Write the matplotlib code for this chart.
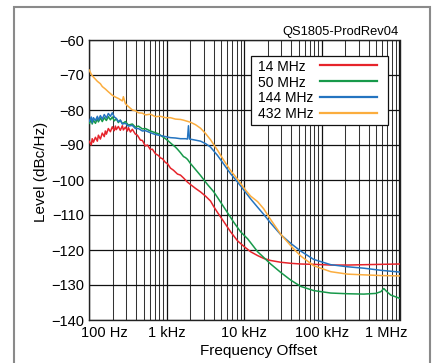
import matplotlib
matplotlib.use("Agg")
import matplotlib.pyplot as plt
from matplotlib.ticker import FixedLocator, LogLocator, NullFormatter
from matplotlib.patches import Rectangle
from matplotlib.lines import Line2D
import matplotlib.transforms as mtransforms

plt.rcParams['font.family'] = ['Liberation Sans', 'DejaVu Sans']

# ---------------- data ----------------
series_labels = ["14 MHz", "50 MHz", "144 MHz", "432 MHz"]
series_colors = ["#e6242b", "#17994a", "#2474c0", "#fbad3e"]

f_14 = [100, 106, 109, 113, 120, 127, 131, 139, 147, 156, 161, 166, 176, 187, 198,
        210, 217, 223, 237, 251, 267, 275, 292, 310, 319, 339, 359, 393, 417, 456,
        484, 529, 561, 614, 651, 712, 779, 827, 877, 959, 1018, 1113, 1216, 1371,
        1499, 1638, 1845, 2018, 2342, 2716, 3152, 3656, 4000, 4506, 5387, 6634,
        8171, 9771, 12030, 14820, 16190, 17700, 21800, 29390, 39540, 53200, 78400,
        130000, 215000, 347000, 575000, 1000000]
lvl_14 = [-89.0, -90.0, -88.2, -89.2, -87.8, -88.9, -87.2, -88.3, -86.6, -87.6, -86.0,
          -86.9, -85.3, -86.2, -84.8, -85.9, -84.6, -85.6, -84.7, -85.8, -84.5, -85.7,
          -84.9, -86.0, -85.0, -86.3, -85.5, -86.9, -87.2, -88.6, -88.7, -90.3, -90.0,
          -91.3, -91.2, -92.5, -93.0, -93.7, -93.9, -95.0, -95.3, -96.6, -97.2, -98.3,
          -98.6, -99.4, -100.6, -101.3, -102.4, -103.4, -104.6, -106.0, -107.5, -109.3,
          -111.8, -114.8, -117.4, -118.9, -120.5, -121.6, -122.0, -122.4, -123.0,
          -123.5, -123.8, -124.0, -124.1, -124.3, -124.3, -124.2, -124.1, -124.0]

f_50 = [100, 106, 109, 113, 120, 127, 131, 139, 147, 156, 166, 176, 187, 198, 210,
        223, 237, 251, 267, 292, 319, 359, 393, 430, 484, 529, 614, 712, 779, 877,
        959, 1049, 1181, 1291, 1371, 1499, 1638, 1738, 1845, 2018, 2342, 2716, 3346,
        4000, 4506, 5717, 7251, 8930, 11000, 14820, 17700, 21800, 29390, 39540,
        53200, 78400, 130000, 215000, 347000, 495000, 575000, 628000, 687000,
        774000, 898000, 1000000]
lvl_50 = [-83.8, -82.8, -84.0, -82.9, -83.8, -82.5, -83.4, -82.3, -83.3, -82.2, -83.0,
          -81.9, -82.8, -82.0, -83.1, -82.5, -83.6, -82.9, -83.9, -83.3, -84.3, -84.0,
          -84.9, -84.6, -85.4, -85.3, -86.0, -86.5, -86.8, -87.6, -88.2, -88.9, -89.9,
          -90.6, -91.2, -92.2, -93.3, -93.6, -94.1, -95.3, -97.0, -98.7, -101.3,
          -103.3, -105.0, -108.5, -112.0, -114.8, -116.8, -120.5, -122.1, -124.0,
          -126.4, -128.6, -130.4, -131.6, -132.3, -132.5, -132.6, -132.4, -131.9,
          -131.0, -131.9, -132.9, -133.4, -133.8]

f_144 = [100, 106, 109, 113, 120, 127, 131, 139, 147, 156, 166, 176, 187, 198, 210,
         223, 237, 251, 267, 292, 319, 359, 393, 430, 484, 529, 614, 712, 827, 959,
         1113, 1291, 1499, 1738, 1845, 1900, 1959, 2207, 2716, 3152, 3656, 4506,
         5387, 6634, 8171, 9771, 12030, 14820, 17700, 21800, 29390, 39540, 53200,
         78400, 130000, 215000, 347000, 575000, 1000000]
lvl_144 = [-83.2, -82.0, -83.6, -82.2, -83.0, -81.8, -82.9, -81.6, -82.6, -81.3, -82.3,
           -81.0, -81.8, -80.8, -82.0, -82.4, -83.3, -82.9, -84.0, -83.8, -84.6, -84.4,
           -85.3, -85.3, -86.0, -85.9, -86.5, -87.0, -87.3, -87.6, -87.9, -88.0, -88.2,
           -88.2, -88.3, -84.5, -88.3, -88.5, -88.9, -89.6, -90.6, -93.0, -95.4, -98.2,
           -100.6, -102.8, -105.4, -107.8, -109.8, -112.3, -115.6, -118.1, -120.3,
           -122.7, -124.2, -124.8, -125.2, -125.8, -126.3]

f_432 = [100, 106, 109, 113, 120, 127, 139, 147, 161, 176, 187, 198, 217, 237, 267,
         275, 292, 319, 359, 393, 430, 484, 529, 614, 712, 827, 959, 1113, 1291, 1499,
         1638, 2018, 2342, 2716, 3152, 3656, 4506, 5387, 6634, 8171, 10360, 12030,
         14820, 17700, 21800, 29390, 42000, 53200, 78400, 130000, 215000, 347000,
         575000, 1000000]
lvl_432 = [-68.6, -69.8, -70.2, -70.6, -71.2, -71.8, -72.5, -73.3, -74.0, -74.8, -75.3,
           -75.8, -76.3, -76.7, -77.4, -76.2, -78.2, -79.0, -80.0, -80.2, -80.8, -80.9,
           -81.4, -81.2, -81.9, -81.8, -82.2, -82.2, -82.6, -82.7, -82.9, -83.5, -84.2,
           -85.2, -86.7, -88.5, -91.5, -94.3, -97.3, -99.8, -102.9, -104.6, -106.2,
           -108.2, -111.3, -115.5, -119.4, -121.7, -124.5, -126.2, -126.9, -127.1,
           -127.3, -127.4]

x_ticks = [100, 1000, 10000, 100000, 1000000]
x_tick_labels = ["100 Hz", "1 kHz", "10 kHz", "100 kHz", "1 MHz"]
y_ticks = [-60, -70, -80, -90, -100, -110, -120, -130, -140]

# ---------------- figure ----------------
W, H = 433, 363
fig = plt.figure(figsize=(W / 100, H / 100), dpi=100)
ax = fig.add_axes([89.3 / W, (H - 320) / H, (399.5 - 89.3) / W, 280 / H])

freqs = [f_14, f_50, f_144, f_432]
levels = [lvl_14, lvl_50, lvl_144, lvl_432]
for fr, lv, lab, col in zip(freqs, levels, series_labels, series_colors):
    ax.plot(fr, lv, color=col, lw=1.1, label=lab, zorder=3)

ax.set_xscale('log')
ax.set_xlim(100, 1e6)
ax.set_ylim(-140, -60)
ax.xaxis.set_major_locator(FixedLocator(x_ticks))
ax.set_xticklabels(x_tick_labels)
ax.xaxis.set_minor_locator(LogLocator(base=10, subs=[2, 3, 4, 5, 6, 7, 8, 9]))
ax.xaxis.set_minor_formatter(NullFormatter())
ax.yaxis.set_major_locator(FixedLocator(y_ticks))

ax.grid(True, which='major', axis='both', color='#111111', lw=0.9, zorder=1)
ax.grid(True, which='minor', axis='x', color='#333333', lw=0.75, zorder=1)
ax.set_axisbelow(True)
ax.tick_params(which='both', length=0)
ax.tick_params(axis='y', pad=3.6, labelsize=10.5)
ax.tick_params(axis='x', pad=4.5, labelsize=10.5)
for s in ax.spines.values():
    s.set_color('#222222')
    s.set_linewidth(1.0)

# shift outermost x labels inward as in the reference
labs = ax.get_xticklabels()
labs[0].set_transform(labs[0].get_transform() + mtransforms.ScaledTranslation(15 / 100, 0, fig.dpi_scale_trans))
labs[-1].set_transform(labs[-1].get_transform() + mtransforms.ScaledTranslation(-13.5 / 100, 0, fig.dpi_scale_trans))

ax.set_xlabel("Frequency Offset", fontsize=11, va='center')
ax.xaxis.set_label_coords(0.5455, (320 - 351) / 280)
ax.set_ylabel("Level (dBc/Hz)", fontsize=11, va='center', ha='center', rotation_mode='default')
ax.yaxis.set_label_coords((41 - 89.3) / 310.2, (320 - 172) / 280)

# legend box: labels left-aligned, line samples on the right
def fx(px):
    return px / W

def fy(py):
    return 1 - py / H

box = Rectangle((fx(251), fy(125)), fx(388) - fx(251), fy(56) - fy(125),
                transform=fig.transFigure, facecolor='white', edgecolor='#111111',
                lw=0.9, zorder=5)
fig.patches.append(box)
row_centers = [65.7, 81.7, 97.3, 113.3]
for lab, col, yc in zip(series_labels, series_colors, row_centers):
    fig.text(fx(257.7), fy(yc + 5.0), lab, ha='left', va='baseline', fontsize=10, zorder=6)
    fig.add_artist(Line2D([fx(320), fx(377)], [fy(yc - 0.5), fy(yc - 0.5)],
                          transform=fig.transFigure, color=col, lw=1.6, zorder=6))

fig.text(399 / W, 1 - 31.5 / H, "QS1805-ProdRev04", ha='right', va='center', fontsize=9.3)

frame = Rectangle((14 / W, -0.1), 416 / W, (1 - 7 / H) + 0.1, transform=fig.transFigure,
                  fill=False, edgecolor='#8a8a8a', lw=1.5, clip_on=False)
fig.patches.append(frame)

fig.savefig("out.png", dpi=100)
